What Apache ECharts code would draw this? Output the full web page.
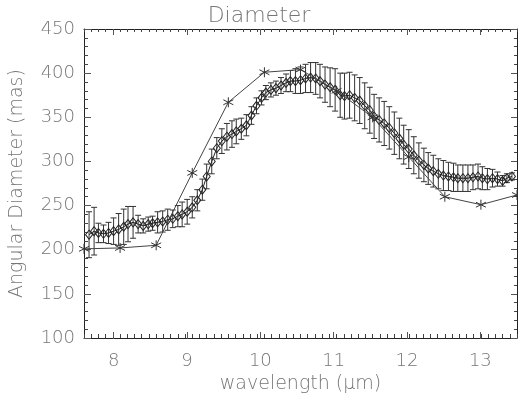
<!DOCTYPE html>
<html>
<head>
<meta charset="utf-8">
<script src="https://cdn.jsdelivr.net/npm/echarts@6/dist/echarts.min.js"></script>
<style>html,body{margin:0;padding:0;background:#fff;}#c{width:518px;height:399px;}</style>
</head>
<body>
<div id="c"></div>
<script>
// ---- data ----
const wavelength = [7.57,7.64,7.70,7.77,7.84,7.91,7.98,8.05,8.11,8.18,8.25,8.32,8.39,8.45,8.52,8.59,8.66,8.73,8.80,8.86,8.93,9.00,9.07,9.14,9.20,9.27,9.34,9.41,9.48,9.55,9.61,9.68,9.75,9.82,9.89,9.96,10.02,10.09,10.16,10.23,10.30,10.36,10.43,10.50,10.57,10.64,10.71,10.77,10.84,10.91,10.98,11.05,11.11,11.18,11.25,11.32,11.39,11.46,11.52,11.59,11.66,11.73,11.80,11.87,11.93,12.00,12.07,12.14,12.21,12.27,12.34,12.41,12.48,12.55,12.62,12.68,12.75,12.82,12.89,12.96,13.02,13.09,13.16,13.23,13.30,13.36,13.43];
const diameter = [217,221,219,218,219,221,223,226,229,231,229,227,229,230,231,232,234,235,238,240,243,248,256,268,283,300,315,323,328,331,334,337,341,352,363,372,378,381,383,386,389,391,391,392,394,395,394,391,387,384,381,375,374,375,372,369,363,358,351,347,343,338,332,326,319,314,307,301,296,292,289,286,284,283,282,281,281,281,282,283,281,280,281,280,278,281,283];
const diameterErr = [26,27,11,10,12,15,18,20,20,18,10,8,8,8,12,12,12,10,12,14,14,12,12,12,14,14,12,14,15,15,14,12,12,10,9,8,8,8,8,9,10,12,14,15,16,17,18,19,20,22,24,25,26,26,26,26,26,26,25,25,25,24,24,23,22,22,21,20,19,18,18,17,17,16,16,15,15,15,14,14,13,12,10,8,6,5,4];
const starWavelength = [7.5,8.0,8.5,9.0,9.5,10.0,10.5,11.0,11.5,12.0,12.5,13.0,13.5];
const starDiameter = [201,202,205,287,367,401,404,380,350,305,260,251,262];
const yTicks = [100,150,200,250,300,350,400,450];
const xTicks = [8,9,10,11,12,13];

const titleText = 'Diameter';
const xName = 'wavelength (\u03bcm)';
const yName = 'Angular Diameter (mas)';

// ---- chart ----
const FONT = 'DejaVu Sans';
const TXT = '#767676';
const AX = '#222';
const chart = echarts.init(document.getElementById('c'), null, {renderer: 'canvas'});

const diamPts = wavelength.map((w, i) => [w, diameter[i]]);
const errPts = wavelength.map((w, i) => [w, diameter[i] - diameterErr[i], diameter[i] + diameterErr[i]]);
const starPts = starWavelength.map((w, i) => [w, starDiameter[i]]);

const yMin = yTicks[0], yMax = yTicks[yTicks.length - 1];
const xMin = 7.5, xMax = 13.5;

const mainGrid = {left: 77, top: 29, width: 440, height: 310};
const pxPerX = mainGrid.width / (xMax - xMin);
const majGrid = {
  left: mainGrid.left + (xTicks[0] - xMin) * pxPerX,
  top: mainGrid.top,
  width: (xTicks[xTicks.length - 1] - xTicks[0]) * pxPerX,
  height: mainGrid.height
};

const noSplit = {show: false};
const option = {
  backgroundColor: '#fff',
  animation: false,
  title: {
    text: titleText, left: 'center', top: 0,
    textStyle: {fontFamily: FONT, fontSize: 22, fontWeight: 300, color: TXT}
  },
  grid: [mainGrid, majGrid],
  xAxis: [
    { // bottom minor ticks + frame + name
      gridIndex: 0, type: 'value', position: 'bottom', min: xMin, max: xMax, interval: 0.1,
      axisLine: {show: true, onZero: false, lineStyle: {color: AX, width: 1}},
      axisTick: {show: true, inside: true, length: 4, lineStyle: {color: '#444'}},
      axisLabel: {show: false}, splitLine: noSplit,
      name: xName, nameLocation: 'middle', nameGap: 37,
      nameTextStyle: {fontFamily: FONT, fontSize: 19, fontWeight: 300, color: TXT}
    },
    { // top minor ticks + frame
      gridIndex: 0, type: 'value', position: 'top', min: xMin, max: xMax, interval: 0.1,
      axisLine: {show: true, onZero: false, lineStyle: {color: AX, width: 1}},
      axisTick: {show: true, inside: true, length: 3, lineStyle: {color: '#444'}},
      axisLabel: {show: false}, splitLine: noSplit
    },
    { // bottom major ticks + labels
      gridIndex: 1, type: 'value', position: 'bottom', min: xTicks[0], max: xTicks[xTicks.length - 1], interval: 1,
      axisLine: {show: false, onZero: false},
      axisTick: {show: true, inside: true, length: 7, lineStyle: {color: '#555'}},
      axisLabel: {show: true, margin: 13, fontFamily: FONT, fontSize: 18, fontWeight: 300, color: TXT},
      splitLine: noSplit
    },
    { // top major ticks
      gridIndex: 1, type: 'value', position: 'top', min: xTicks[0], max: xTicks[xTicks.length - 1], interval: 1,
      axisLine: {show: false, onZero: false},
      axisTick: {show: true, inside: true, length: 6, lineStyle: {color: '#555'}},
      axisLabel: {show: false}, splitLine: noSplit
    }
  ],
  yAxis: [
    {
      gridIndex: 0, type: 'value', position: 'left', min: yMin, max: yMax, interval: 50,
      axisLine: {show: true, onZero: false, lineStyle: {color: AX, width: 1}},
      axisTick: {show: true, inside: true, length: 7, lineStyle: {color: '#555'}},
      minorTick: {show: true, splitNumber: 5, length: 4, lineStyle: {color: '#444'}},
      axisLabel: {show: true, margin: 9, fontFamily: FONT, fontSize: 18, fontWeight: 300, color: TXT},
      splitLine: noSplit, minorSplitLine: {show: false},
      name: yName, nameLocation: 'middle', nameGap: 57,
      nameTextStyle: {fontFamily: FONT, fontSize: 19, fontWeight: 300, color: TXT}
    },
    {
      gridIndex: 0, type: 'value', position: 'right', min: yMin, max: yMax, interval: 50,
      axisLine: {show: true, onZero: false, lineStyle: {color: AX, width: 1}},
      axisTick: {show: true, inside: true, length: 6, lineStyle: {color: '#555'}},
      minorTick: {show: true, splitNumber: 5, length: 3, lineStyle: {color: '#444'}},
      axisLabel: {show: false}, splitLine: noSplit
    },
    {gridIndex: 1, type: 'value', min: yMin, max: yMax, show: false}
  ],
  series: [
    {
      type: 'custom', name: 'error', xAxisIndex: 0, yAxisIndex: 0,
      data: errPts,
      renderItem: function (params, api) {
        const x = api.value(0);
        const lo = api.coord([x, api.value(1)]);
        const hi = api.coord([x, api.value(2)]);
        const hw = 3;
        const st = {stroke: '#333', lineWidth: 1};
        return {
          type: 'group',
          children: [
            {type: 'line', shape: {x1: lo[0], y1: lo[1], x2: hi[0], y2: hi[1]}, style: st},
            {type: 'line', shape: {x1: lo[0] - hw, y1: lo[1], x2: lo[0] + hw, y2: lo[1]}, style: st},
            {type: 'line', shape: {x1: hi[0] - hw, y1: hi[1], x2: hi[0] + hw, y2: hi[1]}, style: st}
          ]
        };
      },
      z: 2
    },
    {
      type: 'line', name: 'diameter', xAxisIndex: 0, yAxisIndex: 0,
      data: diamPts,
      symbol: 'diamond', symbolSize: [7, 9], showAllSymbol: true,
      lineStyle: {color: '#222', width: 1},
      itemStyle: {color: 'rgba(0,0,0,0)', borderColor: '#222', borderWidth: 1},
      z: 3
    },
    {
      type: 'line', name: 'model', xAxisIndex: 0, yAxisIndex: 0,
      data: starPts,
      symbol: 'path://M5 0L5 10M0.7 2.5L9.3 7.5M0.7 7.5L9.3 2.5', symbolSize: 10, showAllSymbol: true,
      lineStyle: {color: '#444', width: 1},
      itemStyle: {color: 'rgba(0,0,0,0)', borderColor: '#333', borderWidth: 1},
      z: 4
    }
  ]
};
chart.setOption(option);
</script>
</body>
</html>
